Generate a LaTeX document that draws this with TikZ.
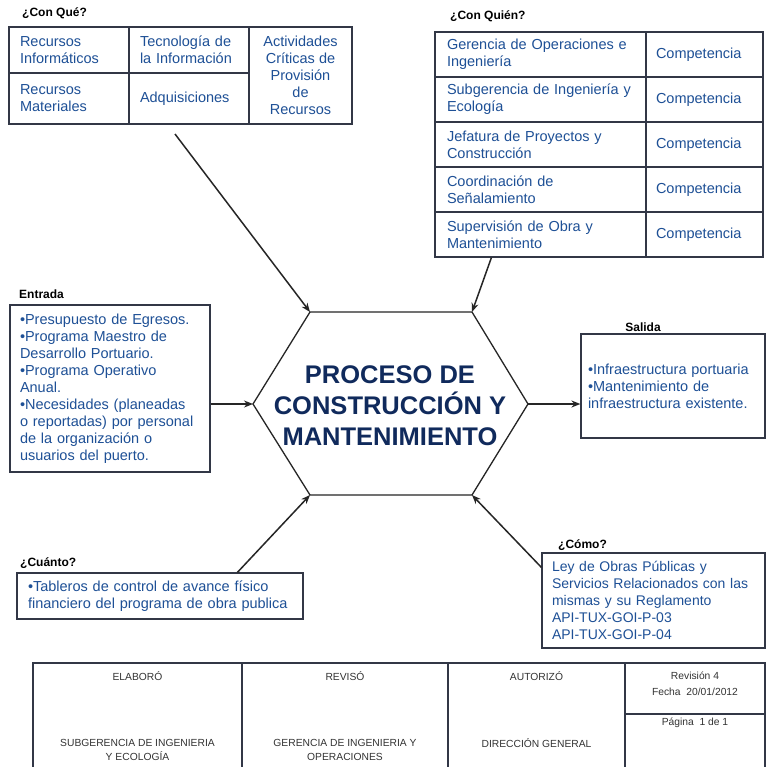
\documentclass[tikz,border=0pt]{standalone}
\usepackage{fontspec}
\setmainfont{Liberation Sans}
\usetikzlibrary{arrows.meta, positioning, calc}

\definecolor{txtblue}{RGB}{30,80,150}
\definecolor{navy}{RGB}{16,42,92}
\definecolor{frame}{RGB}{50,55,70}

\begin{document}
\begin{tikzpicture}[x=1pt, y=-1pt,
    every node/.style={font=\fontsize{14.5}{17}\selectfont, inner sep=0pt},
    cell/.style={draw=frame, line width=1.2pt, text=txtblue, align=left},
    title/.style={font=\bfseries\fontsize{12}{14}\selectfont, text=black},
    proc/.style={font=\bfseries\fontsize{25.5}{31}\selectfont, text=navy, align=center},
    fcell/.style={draw=frame, line width=1.2pt},
    ftxt/.style={font=\fontsize{10.3}{14}\selectfont, text=black!80, align=center},
    hexline/.style={draw=black!85, line width=1.3pt},
    flow/.style={draw=black!85, line width=1.5pt, -{Stealth[length=9pt, width=7pt]}}
  ]
  \path[use as bounding box, fill=white] (0,0) rectangle (767,767);

  % con que
  \node[title, anchor=west] (tqu) at (22,13) {¿Con Qué?};
  \node[cell, minimum width=120pt, minimum height=46pt, text width=98pt, inner xsep=11pt] (q1) at (69,50) {Recursos\\Informáticos};
  \node[cell, minimum width=120pt, minimum height=46pt, text width=98pt, inner xsep=11pt] (q2) at (189,50) {Tecnología de\\la Información};
  \node[cell, align=center, minimum width=103pt, minimum height=97pt] (q3) at (300.5,75.5) {Actividades\\Críticas de\\Provisión\\de\\Recursos};
  \node[cell, minimum width=120pt, minimum height=51pt, text width=98pt, inner xsep=11pt] (q4) at (69,98.5) {Recursos\\Materiales};
  \node[cell, minimum width=120pt, minimum height=51pt, text width=98pt, inner xsep=11pt] (q5) at (189,98.5) {Adquisiciones};

  % con quien
  \node[title, anchor=west] (tqn) at (450,16) {¿Con Quién?};
  \foreach \who [count=\i] in {{Gerencia de Operaciones e\\Ingeniería}, {Subgerencia de Ingeniería y\\Ecología}, {Jefatura de Proyectos y\\Construcción}, {Coordinación de\\Señalamiento}, {Supervisión de Obra y\\Mantenimiento}}{
    \node[cell, minimum width=211pt, minimum height=45pt, text width=187pt, inner xsep=12pt] (who\i) at (540.5,9.5+45*\i) {\who};
    \node[cell, minimum width=117pt, minimum height=45pt, text width=97pt, inner xsep=10pt] (comp\i) at (704.5,9.5+45*\i) {Competencia};
  }

  % entrada y salida
  \node[title, anchor=west] (tin) at (19,294) {Entrada};
  \node[cell, minimum width=200pt, minimum height=167pt, text width=180pt, inner xsep=10pt] (entrada) at (110,388.5) {•Presupuesto de Egresos.\\•Programa Maestro de\\Desarrollo Portuario.\\•Programa Operativo\\Anual.\\•Necesidades (planeadas\\o reportadas) por personal\\de la organización o\\usuarios del puerto.};
  \node[title] (tout) at (643,327) {Salida};
  \node[cell, minimum width=184pt, minimum height=104pt, text width=170pt, inner xsep=7pt] (salida) at (673,386) {•Infraestructura portuaria\\•Mantenimiento de\\infraestructura existente.};

  % cuanto y como
  \node[title, anchor=west] (tcu) at (20,563) {¿Cuánto?};
  \node[cell, minimum width=286pt, minimum height=46pt, text width=264pt, inner xsep=11pt] (cuanto) at (160,596) {•Tableros de control de avance físico\\financiero del programa de obra publica};
  \node[cell, font=\fontsize{14}{17}\selectfont, minimum width=223pt, minimum height=95pt, text width=203pt, inner xsep=10pt] (como) at (653.5,600.5) {Ley de Obras Públicas y\\Servicios Relacionados con las\\mismas y su Reglamento\\API-TUX-GOI-P-03\\API-TUX-GOI-P-04};
  \node[title, anchor=west] (tco) at (558,545) {¿Cómo?};

  % proceso
  \coordinate (hl) at (253,404);
  \coordinate (htl) at (310,312);
  \coordinate (htr) at (472,312);
  \coordinate (hr) at (528,404);
  \coordinate (hbr) at (472,495);
  \coordinate (hbl) at (310,495);
  \draw[hexline] (hl) -- (htl) -- (htr) -- (hr) -- (hbr) -- (hbl) -- cycle;
  \node[proc] (proc) at (390,406) {PROCESO DE\\CONSTRUCCIÓN Y\\MANTENIMIENTO};

  \coordinate (qs) at (175,134);
  \coordinate (ws) at ($(who5.south west)+(57,0)$);
  \coordinate (cs) at ($(cuanto.north west)+(221,0)$);
  \coordinate (ms) at ($(como.north west)+(0,15)$);
  \draw[flow] (qs) -- (htl);
  \draw[flow] (ws) -- (htr);
  \draw[flow] (entrada.east |- hl) -- (hl);
  \draw[flow] (hr) -- (salida.west |- hr);
  \draw[flow] (cs) -- (hbl);
  \draw[flow] (ms) -- (hbr);

  % pie
  \node[fcell, minimum width=209pt, minimum height=107pt] (elab) at (137.5,716.5) {};
  \node[fcell, minimum width=206pt, minimum height=107pt] (rev) at (345,716.5) {};
  \node[fcell, minimum width=177pt, minimum height=107pt] (aut) at (536.5,716.5) {};
  \node[fcell, minimum width=140pt, minimum height=51pt] (fecha) at (695,688.5) {};
  \node[fcell, minimum width=140pt, minimum height=56pt] (pag) at (695,742) {};
  \node[ftxt] (elabt) at (137.5,676) {ELABORÓ};
  \node[ftxt] (revt) at (345,676) {REVISÓ};
  \node[ftxt] (autt) at (536.5,676) {AUTORIZÓ};
  \node[ftxt] (elabn) at (137.5,750) {SUBGERENCIA DE INGENIERIA\\Y ECOLOGÍA};
  \node[ftxt] (revn) at (345,750) {GERENCIA DE INGENIERIA Y\\OPERACIONES};
  \node[ftxt] (autn) at (536.5,743) {DIRECCIÓN GENERAL};
  \node[ftxt, font=\fontsize{10.3}{16}\selectfont] (fechat) at (695,684) {Revisión 4\\Fecha\ \ 20/01/2012};
  \node[ftxt] (pagt) at (695,723) {Página\ \ 1\ de 1};
\end{tikzpicture}
\end{document}
